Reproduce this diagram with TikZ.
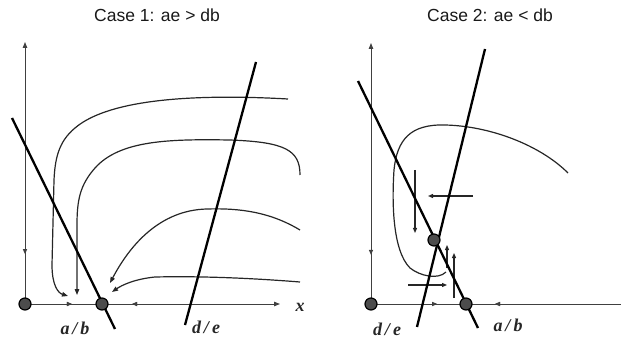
\documentclass[tikz,border=0pt]{standalone}
\usepackage{fontspec}
\setmainfont{Liberation Serif}
\newfontfamily\titlefont{Liberation Sans}
\usetikzlibrary{arrows.meta,decorations.markings}
\begin{document}
\begin{tikzpicture}[x=1pt,y=-1pt,
  axis/.style={draw=black!75, line width=1pt},
  isocline/.style={draw=black, line width=2.3pt},
  traj/.style={draw=black!85, line width=1.2pt, -{Triangle[length=6pt,width=4.5pt]}},
  small/.style={draw=black!85, line width=1.1pt, -{Triangle[length=5pt,width=4pt]}},
  eq/.style={circle, fill=black!70, draw=black, line width=1.2pt, minimum size=12pt, inner sep=0pt},
  fwd/.style={postaction={decorate}, decoration={markings, mark=at position #1 with {\arrow{Triangle[length=5pt,width=4pt]}}}},
  bwd/.style={postaction={decorate}, decoration={markings, mark=at position #1 with {\arrowreversed{Triangle[length=5pt,width=4pt]}}}},
  title/.style={font=\titlefont\fontsize{17.5}{19}\selectfont, text=black!90},
  lab/.style={font=\fontsize{18}{20}\selectfont\bfseries\itshape, text=black!85}
]
\useasboundingbox (0,0) rectangle (621,339);

% ---------- titles ----------
\node[title] (t1) at (157,15) {Case 1: ae > db};
\node[title] (t2) at (490,15) {Case 2: ae < db};

% ---------- Case 1 ----------
\coordinate (O1) at (25,304);
\coordinate (Y1) at (25,42);
\coordinate (X1) at (280,304);
\draw[axis, {Triangle[length=6pt,width=4.5pt]}-, fwd=0.81] (Y1) -- (O1);
\draw[axis, -{Triangle[length=6pt,width=4.5pt]}, fwd=0.184, bwd=0.42] (O1) -- (X1);

% trajectories
\draw[traj] (288,99) .. controls (200,94) and (110,98) .. (75,128)
  .. controls (58,142) and (55,160) .. (54,180) -- (52,265)
  .. controls (52,285) and (58,293) .. (68,296);
\draw[traj] (300,175) .. controls (300,150) and (285,142) .. (230,140)
  .. controls (170,139) and (120,140) .. (95,168)
  .. controls (80,185) and (77,200) .. (77,225) -- (77,295);
\draw[traj] (300,230) .. controls (270,212) and (240,208) .. (207,209)
  .. controls (160,210) and (130,245) .. (110,283);
\draw[traj] (300,282) .. controls (250,278) and (200,276) .. (155,277)
  .. controls (135,279) and (122,285) .. (112,292);

% isoclines
\coordinate (A1s) at (12,118);
\coordinate (A1e) at (115,329);
\coordinate (D1s) at (256,62);
\coordinate (D1e) at (185,325);
\draw[isocline] (A1s) -- (A1e);
\draw[isocline] (D1s) -- (D1e);

\node[eq] (E0) at (O1) {};
\node[eq] (E1) at (102,304) {};

\node[lab] (ab1) at (75,328) {a\,/\,b};
\node[lab] (de1) at (206,327) {d\,/\,e};
\node[lab] (x1) at (300,307) {x};

% ---------- Case 2 ----------
\coordinate (O2) at (371,304);
\coordinate (Y2) at (371,43);
\coordinate (X2) at (621,304);
\draw[axis, {Triangle[length=6pt,width=4.5pt]}-, fwd=0.812] (Y2) -- (O2);
\draw[axis, fwd=0.264, bwd=0.496] (O2) -- (X2);

% trajectory loop
\draw[draw=black!85, line width=1.2pt] (568,173) .. controls (540,145) and (490,126) .. (445,125)
  .. controls (410,124) and (397,140) .. (394,170)
  .. controls (392,200) and (392,250) .. (410,268)
  .. controls (420,276) and (438,280) .. (446,272);

% small direction arrows
\coordinate (s1a) at (415,170); \coordinate (s1b) at (415,233);
\coordinate (s2a) at (473,196); \coordinate (s2b) at (428,196);
\coordinate (s3a) at (447,268); \coordinate (s3b) at (447,245);
\coordinate (s4a) at (454,298); \coordinate (s4b) at (454,253);
\coordinate (s5a) at (408,285); \coordinate (s5b) at (447,285);
\draw[small] (s1a) -- (s1b);
\draw[small] (s2a) -- (s2b);
\draw[small] (s3a) -- (s3b);
\draw[small] (s4a) -- (s4b);
\draw[small] (s5a) -- (s5b);

% isoclines
\coordinate (A2s) at (358,81);
\coordinate (A2e) at (478,328);
\coordinate (D2s) at (485,49);
\coordinate (D2e) at (417,327);
\draw[isocline] (A2s) -- (A2e);
\draw[isocline] (D2s) -- (D2e);

\node[eq] (F0) at (O2) {};
\node[eq] (F1) at (466,304) {};
\node[eq] (F2) at (434,240) {};

\node[lab] (de2) at (387,329) {d\,/\,e};
\node[lab] (ab2) at (508,325) {a\,/\,b};
\end{tikzpicture}
\end{document}
